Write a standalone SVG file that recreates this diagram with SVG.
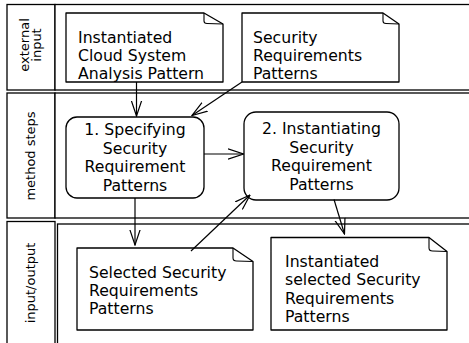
<svg xmlns="http://www.w3.org/2000/svg" width="469" height="343" viewBox="0 0 469 343">
  <defs>
    <style>
      .lane { fill: #fff; stroke: #000; stroke-width: 1.3; }
      .doc { fill: #fff; stroke: #000; stroke-width: 1.3; stroke-linejoin: round; }
      .fold { fill: none; stroke: #000; stroke-width: 1.1; }
      .step { fill: #fff; stroke: #000; stroke-width: 1.3; }
      .txt { font-family: "DejaVu Sans", Verdana, sans-serif; font-size: 15.7px; fill: #000; }
      .mid { text-anchor: middle; }
      .lbl { font-family: "DejaVu Sans", Verdana, sans-serif; font-size: 13px; fill: #000; text-anchor: middle; }
      .edge { fill: none; stroke: #000; stroke-width: 1.2; marker-end: url(#open); }
    </style>
    <marker id="open" viewBox="0 0 16 12" refX="15.5" refY="6" markerWidth="16" markerHeight="12" markerUnits="userSpaceOnUse" orient="auto">
      <path d="M0,0.8 L15.5,6 L0,11.2" fill="none" stroke="#000" stroke-width="1.2"/>
    </marker>
  </defs>

  <!-- swimlanes -->
  <g id="lane-external-input">
    <rect class="lane" x="7" y="4.5" width="48" height="85.5"/>
    <rect class="lane" x="55" y="4.5" width="430" height="85.5"/>
    <text class="lbl" transform="translate(28.5,45) rotate(-90)">external</text>
    <text class="lbl" transform="translate(40.5,45) rotate(-90)">input</text>
  </g>
  <g id="lane-method-steps">
    <rect class="lane" x="7" y="93" width="48" height="125"/>
    <rect class="lane" x="55" y="93" width="430" height="125"/>
    <text class="lbl" transform="translate(35,156) rotate(-90)">method steps</text>
  </g>
  <g id="lane-input-output">
    <rect class="lane" x="7" y="221.5" width="48" height="130"/>
    <rect class="lane" x="57.5" y="224" width="430" height="130"/>
    <text class="lbl" transform="translate(35,283) rotate(-90)">input/output</text>
  </g>

  <!-- documents -->
  <g id="doc-cloud-pattern">
    <path class="doc" d="M66,13 H204 L223,24 V82 H66 Z"/>
    <path class="fold" d="M204,13 V21 Q204,23.5 207,23.5 L223,24"/>
    <text class="txt" x="78" y="43">Instantiated</text>
    <text class="txt" x="78" y="61">Cloud System</text>
    <text class="txt" x="78" y="79">Analysis Pattern</text>
  </g>
  <g id="doc-security-patterns">
    <path class="doc" d="M242,13 H383 L399,24 V82 H242 Z"/>
    <path class="fold" d="M383,13 V21 Q383,23.5 386,23.5 L399,24"/>
    <text class="txt" x="253" y="43">Security</text>
    <text class="txt" x="253" y="61">Requirements</text>
    <text class="txt" x="253" y="79">Patterns</text>
  </g>

  <!-- method steps -->
  <g id="step-specifying">
    <rect class="step" x="66" y="117" width="138" height="81" rx="11" ry="11"/>
    <text class="txt mid" x="135" y="135">1. Specifying</text>
    <text class="txt mid" x="135" y="153.5">Security</text>
    <text class="txt mid" x="135" y="172">Requirement</text>
    <text class="txt mid" x="135" y="190.5">Patterns</text>
  </g>
  <g id="step-instantiating">
    <rect class="step" x="244" y="112" width="155" height="88" rx="12" ry="12"/>
    <text class="txt mid" x="321.5" y="134">2. Instantiating</text>
    <text class="txt mid" x="321.5" y="152.5">Security</text>
    <text class="txt mid" x="321.5" y="171">Requirement</text>
    <text class="txt mid" x="321.5" y="189.5">Patterns</text>
  </g>

  <!-- outputs -->
  <g id="doc-selected">
    <path class="doc" d="M77,248 H233 L253,261.5 V330 H77 Z"/>
    <path class="fold" d="M233,248 V258 Q233,261 236.5,261 L253,261.5"/>
    <text class="txt" x="89" y="278">Selected Security</text>
    <text class="txt" x="89" y="296">Requirements</text>
    <text class="txt" x="89" y="314">Patterns</text>
  </g>
  <g id="doc-instantiated-selected">
    <path class="doc" d="M271,237.5 H429 L447,251.5 V330 H271 Z"/>
    <path class="fold" d="M429,237.5 V248 Q429,251 432.5,251 L447,251.5"/>
    <text class="txt" x="285" y="267">Instantiated</text>
    <text class="txt" x="285" y="285.3">selected Security</text>
    <text class="txt" x="285" y="303.6">Requirements</text>
    <text class="txt" x="285" y="322">Patterns</text>
  </g>

  <!-- connectors -->
  <g id="connectors">
    <path class="edge" d="M136.5,82 V116"/>
    <path class="edge" d="M242,82 L192,115.5"/>
    <path class="edge" d="M204,154 H243.5"/>
    <path class="edge" d="M135,198 V245"/>
    <path class="edge" d="M191,251 L250,195"/>
    <path class="edge" d="M334,199.5 L344.5,234"/>
  </g>
</svg>
